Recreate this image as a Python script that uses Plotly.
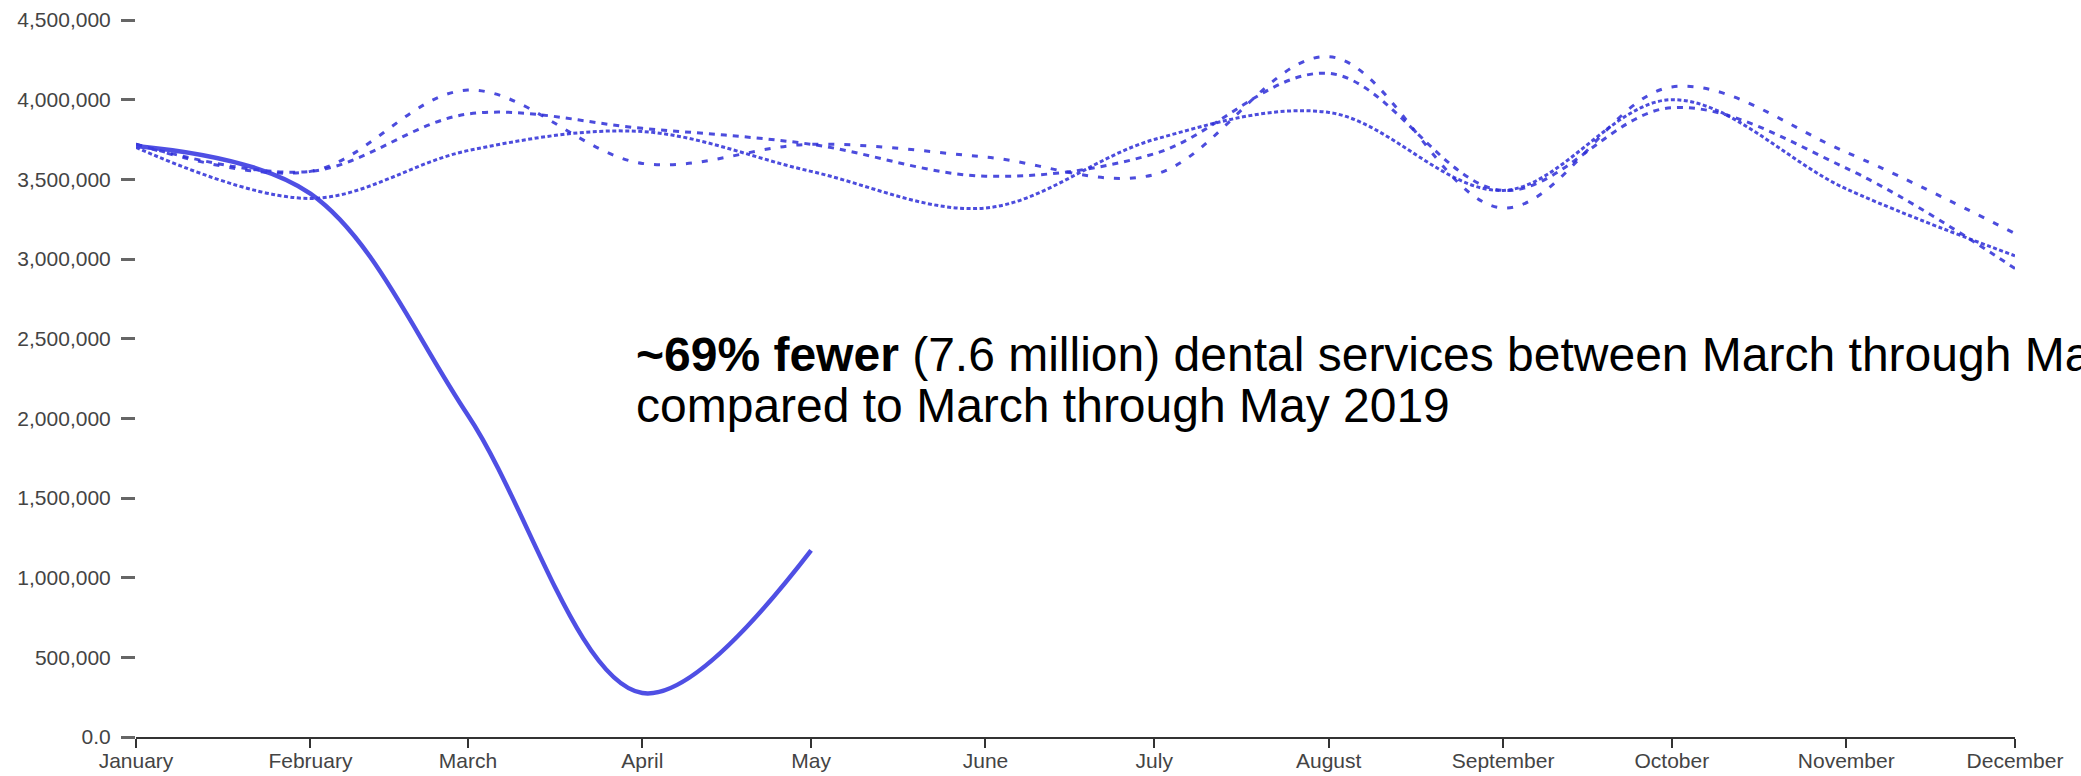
import plotly.graph_objects as go

months = ["2019-01-01", "2019-02-01", "2019-03-01", "2019-04-01", "2019-05-01", "2019-06-01",
          "2019-07-01", "2019-08-01", "2019-09-01", "2019-10-01", "2019-11-01", "2019-12-01"]
month_labels = ["January", "February", "March", "April", "May", "June",
                "July", "August", "September", "October", "November", "December"]

series_a = [3720000, 3550000, 4060000, 3600000, 3720000, 3640000,
            3530000, 4270000, 3320000, 4080000, 3670000, 3160000]
series_b = [3720000, 3550000, 3910000, 3820000, 3720000, 3520000,
            3660000, 4165000, 3430000, 3950000, 3570000, 2940000]
series_c = [3700000, 3380000, 3680000, 3800000, 3550000, 3320000,
            3750000, 3920000, 3430000, 4000000, 3440000, 3020000]
series_2020 = [3710000, 3410000, 2020000, 276000, 1171000]

y_ticks = [0, 500000, 1000000, 1500000, 2000000, 2500000, 3000000, 3500000, 4000000, 4500000]
y_tick_text = ["0.0", "500,000", "1,000,000", "1,500,000", "2,000,000", "2,500,000",
               "3,000,000", "3,500,000", "4,000,000", "4,500,000"]

annotation_line1 = "<b>~69% fewer</b> (7.6 million) dental services between March through May 2020"
annotation_line2 = "compared to March through May 2019"

blue = "rgba(45,45,215,0.85)"
font_family = "Liberation Sans, Arial, sans-serif"

fig = go.Figure()
for vals, dash in [(series_a, "6px,10px"), (series_b, "6px,6px"), (series_c, "4px,2.5px")]:
    fig.add_trace(go.Scatter(x=months, y=vals, mode="lines",
                             line=dict(color=blue, width=3, dash=dash, shape="spline", smoothing=1.0),
                             showlegend=False, hoverinfo="skip"))
fig.add_trace(go.Scatter(x=months[:len(series_2020)], y=series_2020, mode="lines",
                         line=dict(color="rgba(60,60,225,0.9)", width=4.5, shape="spline", smoothing=1.0),
                         showlegend=False, hoverinfo="skip"))

for txt, ypos in [(annotation_line1, 0.573), (annotation_line2, 0.5025)]:
    fig.add_annotation(x=0.2649, y=ypos, xref="paper", yref="paper", xanchor="left", yanchor="top",
                       text=txt, showarrow=False, align="left",
                       font=dict(family=font_family, size=48, color="black"))

fig.update_layout(
    width=2081, height=776,
    margin=dict(l=136, r=66, t=20, b=39),
    paper_bgcolor="white", plot_bgcolor="white",
    font=dict(family=font_family, size=21, color="#444"),
)
fig.update_xaxes(type="date", range=[months[0], months[-1]], tickvals=months, ticktext=month_labels,
                 showline=True, linecolor="#333", linewidth=2, ticks="outside", ticklen=9,
                 tickcolor="#333", tickwidth=1.5, showgrid=False, zeroline=False, automargin=False,
                 tickfont=dict(size=21, color="#444"), ticklabelstandoff=-5)
fig.update_yaxes(range=[0, 4500000], tickvals=y_ticks, ticktext=y_tick_text,
                 showline=False, ticks="outside", ticklen=14, tickwidth=2.5, tickcolor="#666",
                 showgrid=False, zeroline=False, automargin=False, tickfont=dict(size=21, color="#444"),
                 ticklabelstandoff=6)

fig.write_html("out.html", config={"displayModeBar": False}, post_script=(
    "document.body.style.margin='0';"
    "document.body.style.overflow='hidden';"
    "document.documentElement.style.overflow='hidden';"))
